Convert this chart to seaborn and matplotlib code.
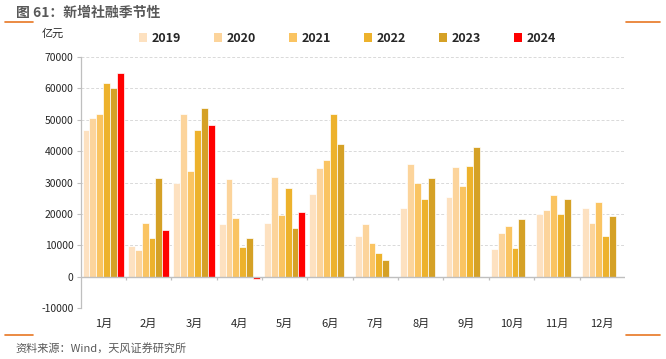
import numpy as np
import pandas as pd
import matplotlib
matplotlib.use("Agg")
import matplotlib.pyplot as plt
import seaborn as sns
from matplotlib.lines import Line2D
from matplotlib.patches import Patch

# data (亿元)
months = ["1月", "2月", "3月", "4月", "5月", "6月", "7月", "8月", "9月", "10月", "11月", "12月"]
years = ["2019", "2020", "2021", "2022", "2023", "2024"]
v2019 = [46800, 9700, 29800, 16800, 17100, 26200, 12900, 21900, 25300, 8700, 19900, 21900]
v2020 = [50600, 8600, 51900, 31000, 31900, 34500, 16900, 35800, 34800, 13900, 21300, 17200]
v2021 = [51900, 17200, 33700, 18600, 19600, 37100, 10700, 29800, 29000, 16200, 26000, 23700]
v2022 = [61800, 12200, 46600, 9300, 28400, 51900, 7700, 24700, 35400, 9100, 19900, 13000]
v2023 = [60000, 31600, 53900, 12200, 15600, 42200, 5300, 31300, 41300, 18400, 24600, 19300]
v2024 = [64800, 14900, 48400, -700, 20700, np.nan, np.nan, np.nan, np.nan, np.nan, np.nan, np.nan]
colors = ["#FDE1C0", "#FCD49B", "#FAC462", "#EDB22C", "#D5A126", "#FF0000"]

sns.set_theme(style="white")
plt.rcParams["font.family"] = ["Noto Sans CJK SC", "DejaVu Sans"]
plt.rcParams["axes.unicode_minus"] = False

rows = []
for y, vals in zip(years, [v2019, v2020, v2021, v2022, v2023, v2024]):
    for m, v in zip(months, vals):
        rows.append({"月份": m, "年份": y, "值": v})
df = pd.DataFrame(rows)

fig = plt.figure(figsize=(6.66, 3.59), dpi=100)
ax = fig.add_axes([0.1209, 0.142, 0.8175, 0.699])

sns.barplot(data=df, x="月份", y="值", hue="年份", palette=colors, saturation=1,
            width=0.91, edgecolor="white", linewidth=0.5, legend=False, ax=ax)

ax.set_ylim(-10000, 70000)
ax.set_yticks(np.arange(-10000, 70001, 10000))
ax.set_xlim(-0.5, 11.5)
ax.yaxis.grid(True, color="#D9D9D9", linestyle=(0, (3, 2)), linewidth=0.7)
ax.set_axisbelow(True)
for s in ["top", "right", "bottom"]:
    ax.spines[s].set_visible(False)
ax.spines["left"].set_color("#BFBFBF")
ax.spines["left"].set_linewidth(0.9)
ax.axhline(0, color="#BFBFBF", linewidth=1.0, zorder=1)
ax.vlines(np.arange(0.5, 11.5, 1), -1200, 0, color="#BFBFBF", linewidth=0.9)

ax.set_xlabel("")
ax.set_ylabel("")
ax.tick_params(axis="x", length=0, pad=8, labelsize=8, colors="#262626")
ax.tick_params(axis="y", length=3, width=0.8, color="#BFBFBF", pad=2,
               labelsize=7.5, labelcolor="#262626", left=True)

# legend across the top
handles = [Patch(facecolor=c, edgecolor="none") for c in colors]
fig.legend(handles, years, loc="center", bbox_to_anchor=(0.522, 0.893), ncol=6,
           frameon=False, handlelength=0.6, handleheight=0.8, handletextpad=0.4,
           columnspacing=2.65, prop={"weight": "bold", "size": 9})

fig.text(42 / 666, 1 - 34 / 359, "亿元", fontsize=8, color="#262626", va="center")

# title, source and decorative lines
fig.text(16 / 666, 1 - 13 / 359, "图 61：新增社融季节性", fontsize=10, fontweight="bold",
         color="#595959", va="center")
fig.text(15 / 666, 1 - 348 / 359, "资料来源：Wind，天风证券研究所", fontsize=8,
         color="#595959", va="center")
for x0, x1, yy in [(5, 33, 22), (626, 660, 22), (5, 33, 335), (626, 660, 335)]:
    fig.add_artist(Line2D([x0 / 666, x1 / 666], [1 - yy / 359, 1 - yy / 359],
                          color="#E87722", linewidth=1.2))

fig.savefig("out.png", dpi=100)
